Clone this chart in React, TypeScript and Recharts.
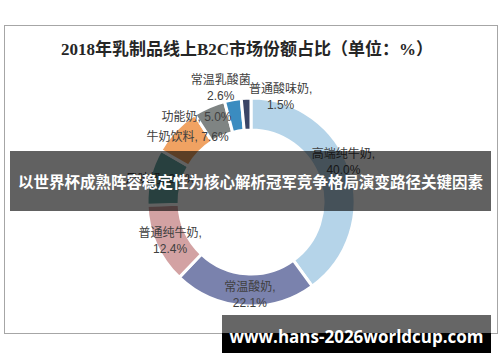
import React from 'react';
import { PieChart, Pie, Cell } from 'recharts';

const categories = ['高端纯牛奶', '常温酸奶', '普通纯牛奶', '风味奶', '牛奶饮料', '功能奶', '常温乳酸菌', '普通酸味奶'];
const shares = [40.0, 22.1, 12.4, 8.8, 7.6, 5.0, 2.6, 1.5];
const colors = ['#b5d4e9', '#7a82ad', '#d3a2a3', '#6aa9a6', '#f0a262', '#7f8483', '#3b8cc0', '#3a4566'];

const TITLE = '2018年乳制品线上B2C市场份额占比（单位：%）';
const BANNER = '以世界杯成熟阵容稳定性为核心解析冠军竞争格局演变路径关键因素';
const WATERMARK = 'www.hans-2026worldcup.com';

// label placement tweaks (style config, not data)
const labelLayout: Record<string, { dx: number; dy: number; oneLine: boolean; comma: boolean }> = {
  '高端纯牛奶': { dx: 4, dy: -11, oneLine: false, comma: true },
  '常温酸奶': { dx: 5, dy: 0, oneLine: false, comma: true },
  '普通纯牛奶': { dx: 4, dy: 1, oneLine: false, comma: true },
  '风味奶': { dx: 0, dy: 0, oneLine: true, comma: true },
  '牛奶饮料': { dx: 4, dy: -1, oneLine: true, comma: true },
  '功能奶': { dx: -17, dy: 0, oneLine: true, comma: true },
  '常温乳酸菌': { dx: -14, dy: -22, oneLine: false, comma: false },
  '普通酸味奶': { dx: 34, dy: -12, oneLine: false, comma: true },
};

const data = categories.map((name, i) => ({ name, value: shares[i] }));

const RAD = Math.PI / 180;
const LABEL_FONT = "'Liberation Sans', 'Noto Sans CJK SC', sans-serif";

const renderLabel = (props: any) => {
  const { cx, cy, midAngle, index } = props;
  const item = data[index];
  const lay = labelLayout[item.name];
  const r = 93;
  const x = cx + r * Math.cos(-midAngle * RAD) + lay.dx;
  const y = cy + r * Math.sin(-midAngle * RAD) + lay.dy;
  const val = item.value.toFixed(1) + '%';
  const common = {
    textAnchor: 'middle' as const,
    dominantBaseline: 'central' as const,
    fill: '#404040',
    fontSize: 12,
    fontFamily: LABEL_FONT,
  };
  if (lay.oneLine) {
    return (
      <text key={'l' + index} x={x} y={y} {...common}>
        {item.name + ', ' + val}
      </text>
    );
  }
  return (
    <g key={'l' + index}>
      <text x={x} y={y - 8} {...common}>
        {item.name + (lay.comma ? ',' : '')}
      </text>
      <text x={x} y={y + 8} {...common}>
        {val}
      </text>
    </g>
  );
};

export default function App() {
  return (
    <div style={{ position: 'absolute', left: 0, top: 0, width: 500, height: 362, background: '#fff', overflow: 'hidden' }}>
      <div
        style={{
          position: 'absolute',
          left: 4,
          top: 25,
          width: 492,
          height: 307,
          border: '1px solid #a6a6a6',
        }}
      />
      <div
        style={{
          position: 'absolute',
          left: 0,
          top: 39,
          width: 494,
          textAlign: 'center',
          fontFamily: "'Liberation Serif', 'Noto Sans CJK SC', serif",
          fontWeight: 'bold',
          fontSize: 17,
          lineHeight: '22px',
          color: '#262626',
          whiteSpace: 'nowrap',
        }}
      >
        {TITLE}
      </div>
      <div style={{ position: 'absolute', left: 0, top: 0 }}>
        <PieChart width={500} height={362}>
          <Pie
            data={data}
            dataKey="value"
            nameKey="name"
            cx={246}
            cy={197}
            innerRadius={72}
            outerRadius={104}
            startAngle={90}
            endAngle={-270}
            stroke="#ffffff"
            strokeWidth={3}
            label={renderLabel}
            labelLine={false}
            isAnimationActive={false}
          >
            {data.map((d, i) => (
              <Cell key={d.name} fill={colors[i]} />
            ))}
          </Pie>
        </PieChart>
      </div>
      <div
        style={{
          position: 'absolute',
          left: 10,
          top: 151,
          width: 481,
          height: 60,
          background: 'rgba(0,0,0,0.62)',
          color: '#fff',
          fontFamily: "'Noto Sans CJK SC', sans-serif",
          fontWeight: 'bold',
          fontSize: 15.5,
          lineHeight: '60px',
          textAlign: 'center',
          whiteSpace: 'nowrap',
          overflow: 'hidden',
        }}
      >
        {BANNER}
      </div>
      <div style={{ position: 'absolute', left: 222, top: 315, width: 269, height: 18, background: '#666666' }} />
      <div style={{ position: 'absolute', left: 222, top: 333, width: 269, height: 20, background: '#000000' }} />
      <div
        style={{
          position: 'absolute',
          left: 222,
          top: 315,
          width: 269,
          height: 38,
          lineHeight: '44px',
          color: '#fff',
          fontFamily: "'Open Sans', 'Noto Sans', sans-serif",
          fontWeight: 'bold',
          fontSize: 17,
          textAlign: 'center',
          whiteSpace: 'nowrap',
        }}
      >
        {WATERMARK}
      </div>
    </div>
  );
}
